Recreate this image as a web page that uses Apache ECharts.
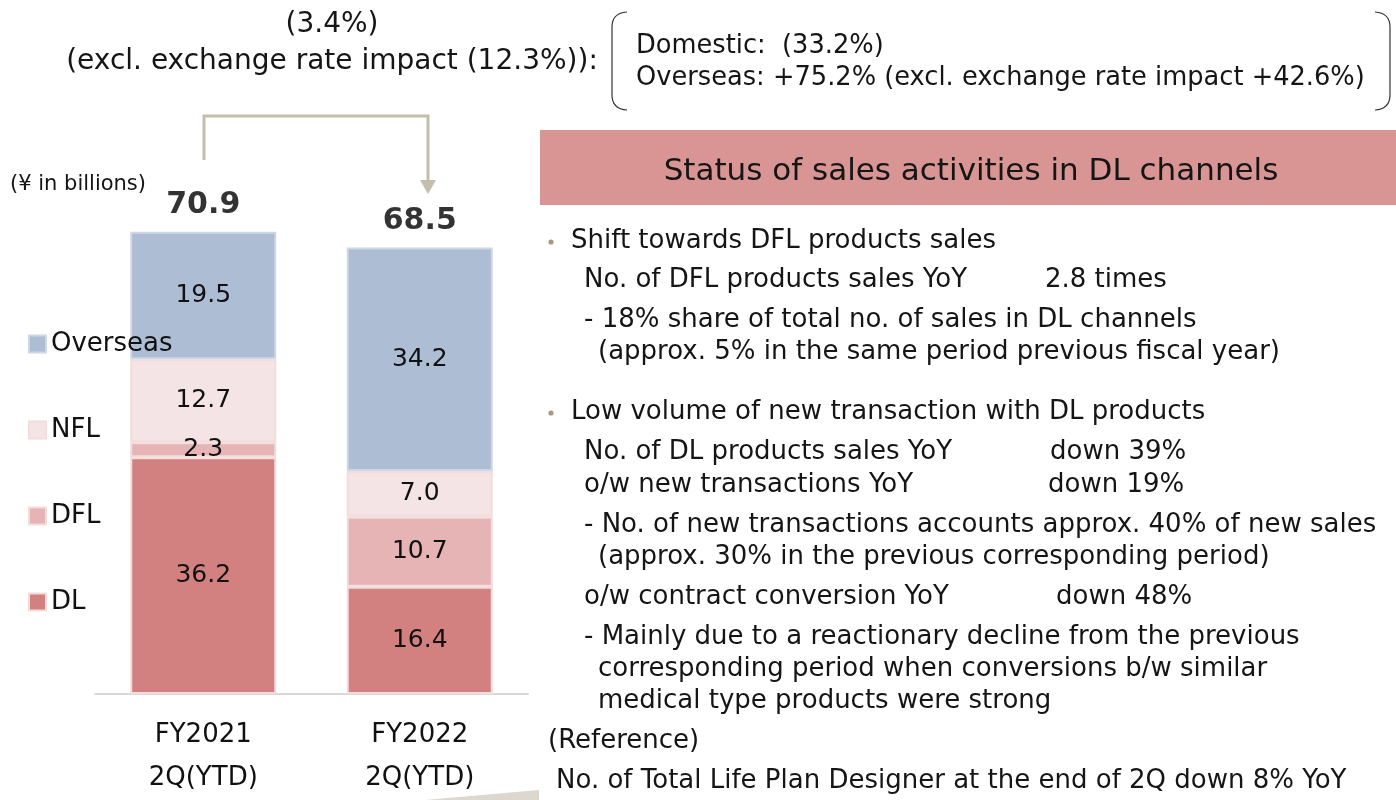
<!DOCTYPE html>
<html>
<head>
<meta charset="utf-8">
<script src="https://cdn.jsdelivr.net/npm/echarts@6/dist/echarts.min.js"></script>
<style>
html,body{margin:0;padding:0;background:#fff;}
#chart{width:1396px;height:800px;}
</style>
</head>
<body>
<div id="chart"></div>
<script>
// ---- data ----
var categories = ['FY2021\n2Q(YTD)', 'FY2022\n2Q(YTD)'];
var seriesNames = ['DL', 'DFL', 'NFL', 'Overseas'];
var dlValues = [36.2, 16.4];
var dflValues = [2.3, 10.7];
var nflValues = [12.7, 7.0];
var overseasValues = [19.5, 34.2];
var totalValues = [70.9, 68.5];
var unitLabel = '(¥ in billions)';
var topChange = '(3.4%)';
var topChangeExcl = '(excl. exchange rate impact (12.3%)):';
var domesticLine = 'Domestic:  (33.2%)';
var overseasLine = 'Overseas: +75.2% (excl. exchange rate impact +42.6%)';
var panelTitle = 'Status of sales activities in DL channels';

var chartFont = 'DejaVu Sans';
var textFont = 'DejaVu Sans';

var colors = {
  DL: '#d38081', DFL: '#e6b4b5', NFL: '#f5e4e5', Overseas: '#adbdd4'
};
var borders = {
  DL: '#f2dcdc', DFL: '#f2dcdc', NFL: '#f2dcdc', Overseas: '#cdd7e5'
};

function barSeries(name, data) {
  return {
    name: name, type: 'bar', stack: 'total', data: data, barWidth: 146,
    itemStyle: { color: colors[name], borderColor: borders[name], borderWidth: 2 },
    label: {
      show: true, position: 'inside', color: '#111', fontFamily: chartFont, fontSize: 25,
      formatter: function (p) { return p.value.toFixed(1); }
    },
    emphasis: { disabled: true }
  };
}

var textColor = '#151515';
function txt(x, y, s, size, opts) {
  opts = opts || {};
  return {
    type: 'text', x: x, y: y, silent: true,
    style: {
      text: s, fill: opts.fill || textColor, font: (opts.weight || 'normal') + ' ' + size + 'px "' + (opts.font || textFont) + '"',
      textAlign: opts.align || 'left', textVerticalAlign: 'middle'
    }
  };
}

var rightLines = [
  [571, 241, 'Shift towards DFL products sales'],
  [584, 280, 'No. of DFL products sales YoY'],
  [1045, 280, '2.8 times'],
  [584, 320, '- 18% share of total no. of sales in DL channels'],
  [598, 352, '(approx. 5% in the same period previous fiscal year)'],
  [571, 412, 'Low volume of new transaction with DL products'],
  [584, 452, 'No. of DL products sales YoY'],
  [1050, 452, 'down 39%'],
  [584, 485, 'o/w new transactions YoY'],
  [1048, 485, 'down 19%'],
  [584, 525, '- No. of new transactions accounts approx. 40% of new sales'],
  [598, 557, '(approx. 30% in the previous corresponding period)'],
  [584, 597, 'o/w contract conversion YoY'],
  [1056, 597, 'down 48%'],
  [584, 637, '- Mainly due to a reactionary decline from the previous'],
  [598, 669, 'corresponding period when conversions b/w similar'],
  [598, 701, 'medical type products were strong'],
  [548, 741, '(Reference)'],
  [556, 781, 'No. of Total Life Plan Designer at the end of 2Q down 8% YoY']
];

var bracketStyle = { fill: 'none', stroke: '#333', lineWidth: 1.2 };
function bracket(xEdge, xEnd) {
  return [
    { type: 'bezierCurve', silent: true, shape: { x1: xEnd, y1: 12, x2: xEdge, y2: 27, cpx1: xEdge, cpy1: 13 }, style: bracketStyle },
    { type: 'line', silent: true, shape: { x1: xEdge, y1: 27, x2: xEdge, y2: 95 }, style: bracketStyle },
    { type: 'bezierCurve', silent: true, shape: { x1: xEdge, y1: 95, x2: xEnd, y2: 110, cpx1: xEdge, cpy1: 109 }, style: bracketStyle }
  ];
}

var graphics = [];
// top texts
graphics.push(txt(332, 25, topChange, 28, { align: 'center' }));
graphics.push(txt(332, 62, topChangeExcl, 28, { align: 'center' }));
// bracket box
graphics = graphics.concat(bracket(612, 627), bracket(1390, 1375));
graphics.push(txt(636, 46, domesticLine, 25.7));
graphics.push(txt(636, 78, overseasLine, 25.7));
// arrow
graphics.push({ type: 'polyline', silent: true, shape: { points: [[204, 160], [204, 116], [428, 116], [428, 182]] }, style: { fill: 'none', stroke: '#c5bead', lineWidth: 3 } });
graphics.push({ type: 'polygon', silent: true, shape: { points: [[420, 180], [436, 180], [428, 194]] }, style: { fill: '#c5bead' } });
// unit
graphics.push(txt(10, 185, unitLabel, 21, { font: chartFont }));
// panel header
graphics.push({ type: 'rect', silent: true, shape: { x: 540, y: 130, width: 856, height: 75 }, style: { fill: '#d99594' } });
graphics.push(txt(971, 172, panelTitle, 31, { align: 'center' }));
// bullets
graphics.push({ type: 'circle', silent: true, shape: { cx: 551, cy: 242, r: 2.6 }, style: { fill: '#a8997e' } });
graphics.push({ type: 'circle', silent: true, shape: { cx: 551, cy: 413, r: 2.6 }, style: { fill: '#a8997e' } });
rightLines.forEach(function (l) { graphics.push(txt(l[0], l[1], l[2], 26)); });
// bottom decoration
graphics.push({ type: 'polygon', silent: true, shape: { points: [[425, 800], [539, 790], [539, 800]] }, style: { fill: '#dcd8cf' } });

var option = {
  animation: false,
  backgroundColor: '#fff',
  grid: { left: 95, right: 868, top: 171, bottom: 105 },
  legend: {
    data: ['Overseas', 'NFL', 'DFL', 'DL'],
    orient: 'vertical', left: 28, top: 331, padding: 0,
    itemWidth: 17, itemHeight: 17, itemGap: 60, icon: 'rect',
    textStyle: { fontFamily: chartFont, fontSize: 26, lineHeight: 24, color: '#111' },
    selectedMode: false
  },
  xAxis: {
    type: 'category', data: categories,
    axisLine: { lineStyle: { color: '#d9d9d9', width: 2 } },
    axisTick: { show: false },
    axisLabel: { fontFamily: chartFont, fontSize: 26, lineHeight: 43, color: '#111', margin: 20 }
  },
  yAxis: { type: 'value', min: 0, max: 80, show: false, splitLine: { show: false } },
  series: [
    barSeries('DL', dlValues),
    barSeries('DFL', dflValues),
    barSeries('NFL', nflValues),
    barSeries('Overseas', overseasValues),
    {
      name: 'Total', type: 'scatter', data: totalValues, symbolSize: 0, silent: true,
      label: { show: true, position: 'top', distance: 10, color: '#000', fontFamily: chartFont, fontWeight: 'bold', fontSize: 30,
        formatter: function (p) { return p.value.toFixed(1); } }
    }
  ],
  graphic: graphics
};
var chart = echarts.init(document.getElementById('chart'));
chart.setOption(option);
</script>
</body>
</html>
